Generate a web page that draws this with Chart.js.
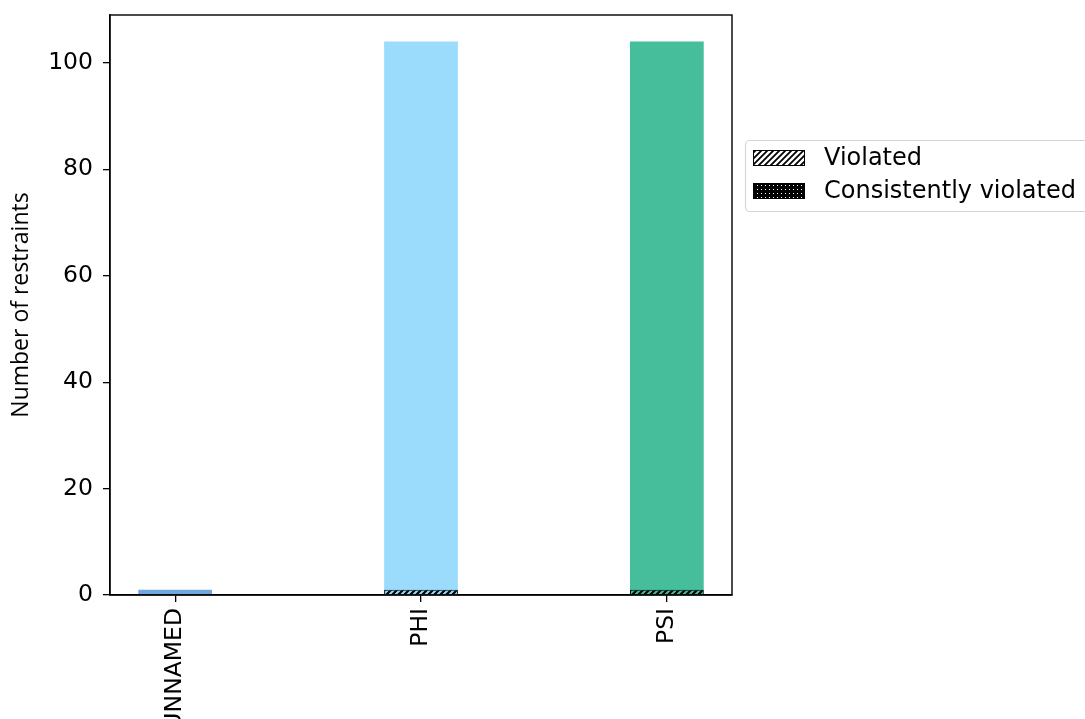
<!DOCTYPE html>
<html>
<head>
<meta charset="utf-8">
<script src="https://cdn.jsdelivr.net/npm/chart.js@4"></script>
<style>
  html, body { margin: 0; padding: 0; background: #fff; }
  #wrap { width: 1085px; height: 719px; }
</style>
</head>
<body>
<div id="wrap"><canvas id="restraintChart"></canvas></div>
<script>
// data
const categories = ['UNNAMED', 'PHI', 'PSI'];
const totalRestraints = [1, 104, 104];
const violated = [0, 1, 1];
const consistentlyViolated = [0, 0, 0];
const yTicks = [0, 20, 40, 60, 80, 100];

const barColors = ['#71a7e0', '#9bdcfd', '#46be9b'];
const tickFont = { family: 'DejaVu Sans', size: 23.5 };

// hatch patterns, roughly like matplotlib's '////' and '....'
function hatchPattern(bg, fg, legend) {
  const c = document.createElement('canvas');
  c.width = 6; c.height = 6;
  const g = c.getContext('2d');
  g.fillStyle = bg;
  g.fillRect(0, 0, 6, 6);
  g.strokeStyle = fg;
  g.lineWidth = legend ? 1.8 : 2;
  g.beginPath();
  g.moveTo(-2, 8); g.lineTo(8, -2);
  g.moveTo(-2, 2); g.lineTo(2, -2);
  g.moveTo(4, 8); g.lineTo(8, 4);
  g.stroke();
  return g.createPattern(c, 'repeat');
}

function dotPattern() {
  const c = document.createElement('canvas');
  c.width = 4; c.height = 4;
  const g = c.getContext('2d');
  g.fillStyle = '#000';
  g.fillRect(0, 0, 4, 4);
  g.fillStyle = '#fff';
  g.fillRect(1, 1, 1, 1);
  return g.createPattern(c, 'repeat');
}

const toPoints = arr => arr.map((v, i) => ({ x: i, y: v }));

// full box around the plot area
const frame = {
  id: 'frame',
  afterDraw(chart) {
    const a = chart.chartArea, ctx = chart.ctx;
    ctx.save();
    ctx.strokeStyle = '#000';
    ctx.lineWidth = 1.4;
    ctx.strokeRect(a.left, a.top, a.right - a.left, a.bottom - a.top);
    ctx.restore();
  }
};

// legend placed outside the axes, like bbox_to_anchor in matplotlib
const sideLegend = {
  id: 'sideLegend',
  afterDraw(chart) {
    const ctx = chart.ctx;
    const items = [
      { text: 'Violated', fill: hatchPattern('#fff', '#000', true) },
      { text: 'Consistently violated', fill: dotPattern() }
    ];
    ctx.save();
    ctx.beginPath();
    ctx.roundRect(745.5, 140.5, 350, 71, 4);
    ctx.fillStyle = '#fff';
    ctx.fill();
    ctx.strokeStyle = '#d6d6d6';
    ctx.lineWidth = 1.2;
    ctx.stroke();
    items.forEach((it, i) => {
      const cy = 158 + i * 33;
      ctx.fillStyle = it.fill;
      ctx.fillRect(753, cy - 8, 52, 16);
      ctx.strokeStyle = '#000';
      ctx.lineWidth = 1;
      ctx.strokeRect(753.5, cy - 7.5, 51, 15);
      ctx.fillStyle = '#000';
      ctx.font = '24px "DejaVu Sans"';
      ctx.textBaseline = 'middle';
      ctx.fillText(it.text, 824, cy + 1);
    });
    ctx.restore();
  }
};

new Chart(document.getElementById('restraintChart'), {
  type: 'bar',
  data: {
    datasets: [
      {
        label: 'Consistently violated',
        data: toPoints(consistentlyViolated),
        backgroundColor: dotPattern(),
        borderColor: '#000',
        borderWidth: 0,
        order: 0
      },
      {
        label: 'Violated',
        data: toPoints(violated),
        backgroundColor: barColors.map(c => hatchPattern('#000', c, false)),
        borderColor: '#000',
        borderWidth: 1,
        order: 1
      },
      {
        label: 'Total',
        data: toPoints(totalRestraints),
        backgroundColor: barColors,
        borderWidth: 0,
        order: 2
      }
    ]
  },
  options: {
    responsive: true,
    maintainAspectRatio: false,
    animation: false,
    layout: { padding: { top: 15, right: 353, left: 0, bottom: 0 } },
    datasets: {
      bar: { grouped: false, barPercentage: 0.3, categoryPercentage: 1 }
    },
    plugins: {
      legend: { display: false },
      tooltip: { enabled: false }
    },
    scales: {
      x: {
        type: 'linear',
        offset: false,
        min: -0.265,
        max: 2.265,
        afterBuildTicks: scale => { scale.ticks = categories.map((c, i) => ({ value: i })); },
        afterFit: scale => { scale.height = 124; scale.paddingLeft = 0; scale.paddingRight = 0; },
        grid: { display: true, offset: false, drawOnChartArea: false, tickLength: 7, color: '#000', lineWidth: 1.3 },
        border: { display: true, color: '#000', width: 1.4 },
        ticks: {
          color: '#000',
          font: tickFont,
          minRotation: 90,
          maxRotation: 90,
          padding: 6,
          callback: v => categories[v]
        }
      },
      y: {
        min: 0,
        max: 109,
        afterBuildTicks: scale => { scale.ticks = yTicks.map(v => ({ value: v })); },
        afterFit: scale => { scale.width = 110; scale.paddingTop = 0; scale.paddingBottom = 0; },
        grid: { display: true, drawOnChartArea: false, tickLength: 7, color: '#000', lineWidth: 1.3 },
        border: { display: true, color: '#000', width: 1.4 },
        ticks: { color: '#000', font: tickFont, padding: 10 },
        title: {
          display: true,
          text: 'Number of restraints',
          color: '#000',
          font: { family: 'Open Sans', size: 23 },
          padding: { top: 8, bottom: 0 }
        }
      }
    }
  },
  plugins: [frame, sideLegend]
});
</script>
</body>
</html>
